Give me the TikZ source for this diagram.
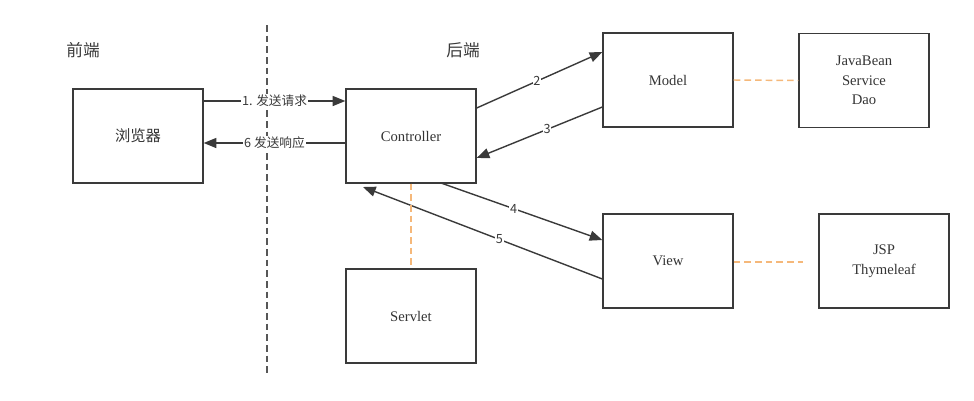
\documentclass[tikz,border=0pt]{standalone}
\usepackage{fontspec}
\setmainfont{Liberation Serif}
\newfontfamily\cjk{Noto Sans CJK SC}
\usetikzlibrary{arrows.meta}
\definecolor{ln}{HTML}{3A3A3A}
\definecolor{orng}{HTML}{F5B87A}
\begin{document}
\begin{tikzpicture}[x=0.75pt,y=-0.75pt,
  box/.style={draw=ln,line width=1pt,minimum width=97.5pt,minimum height=70.5pt,inner sep=0pt,align=center,font=\fontsize{11}{14.6}\selectfont,text=ln!90!black},
  arr/.style={draw=ln,line width=1.05pt,-{Triangle[length=9.5pt,width=7.5pt]}},
  lab/.style={fill=white,inner sep=0.6pt,font=\cjk\fontsize{9.5}{11}\selectfont,text=ln},
  odash/.style={draw=orng,line width=1.1pt,dash pattern=on 5pt off 3pt},
  head/.style={font=\cjk\fontsize{12.5}{14}\selectfont,text=ln}]
\useasboundingbox (0,0) rectangle (974,400);
\node[box] (br) at (138,136) {\cjk\fontsize{11.5}{14}\selectfont 浏览器};
\node[box] (ct) at (411,136) {Controller};
\node[box] (md) at (668,80) {Model};
\node[box] (jb) at (864,80.5) {JavaBean\\Service\\Dao};
\node[box] (vw) at (668,261) {View};
\node[box] (jsp) at (884,261) {JSP\\Thymeleaf};
\node[box] (sv) at (411,316) {Servlet};
\node[head] (fe) at (83,50) {前端};
\node[head] (be) at (463,50) {后端};
\coordinate (dt) at (267,25);
\coordinate (db) at (267,375);
\draw[ln!85,line width=1.1pt,dash pattern=on 5pt off 3pt] (dt) -- (db);
\draw[arr] (br.east |- 0,101) -- node[lab]{1. 发送请求} (ct.west |- 0,101);
\draw[arr] (ct.west |- 0,143) -- node[lab]{6 发送响应} (br.east |- 0,143);
\draw[arr] (ct.east |- 0,108) -- node[lab,pos=0.48]{2} (md.west |- 0,52);
\draw[arr] (md.west |- 0,107) -- node[lab,pos=0.44]{3} (ct.east |- 0,158);
\coordinate (c4) at (441,183);
\draw[arr] (c4) -- node[lab,pos=0.45]{4} (vw.west |- 0,240);
\coordinate (c5) at (363,187);
\draw[arr] (vw.west |- 0,279) -- node[lab,pos=0.43]{5} (c5);
\draw[odash] (md.east) -- (jb.west);
\coordinate (v2) at (803,262);
\draw[odash] (vw.east |- 0,262) -- (v2);
\draw[odash] (ct.south) -- (sv.north);
\end{tikzpicture}
\end{document}
